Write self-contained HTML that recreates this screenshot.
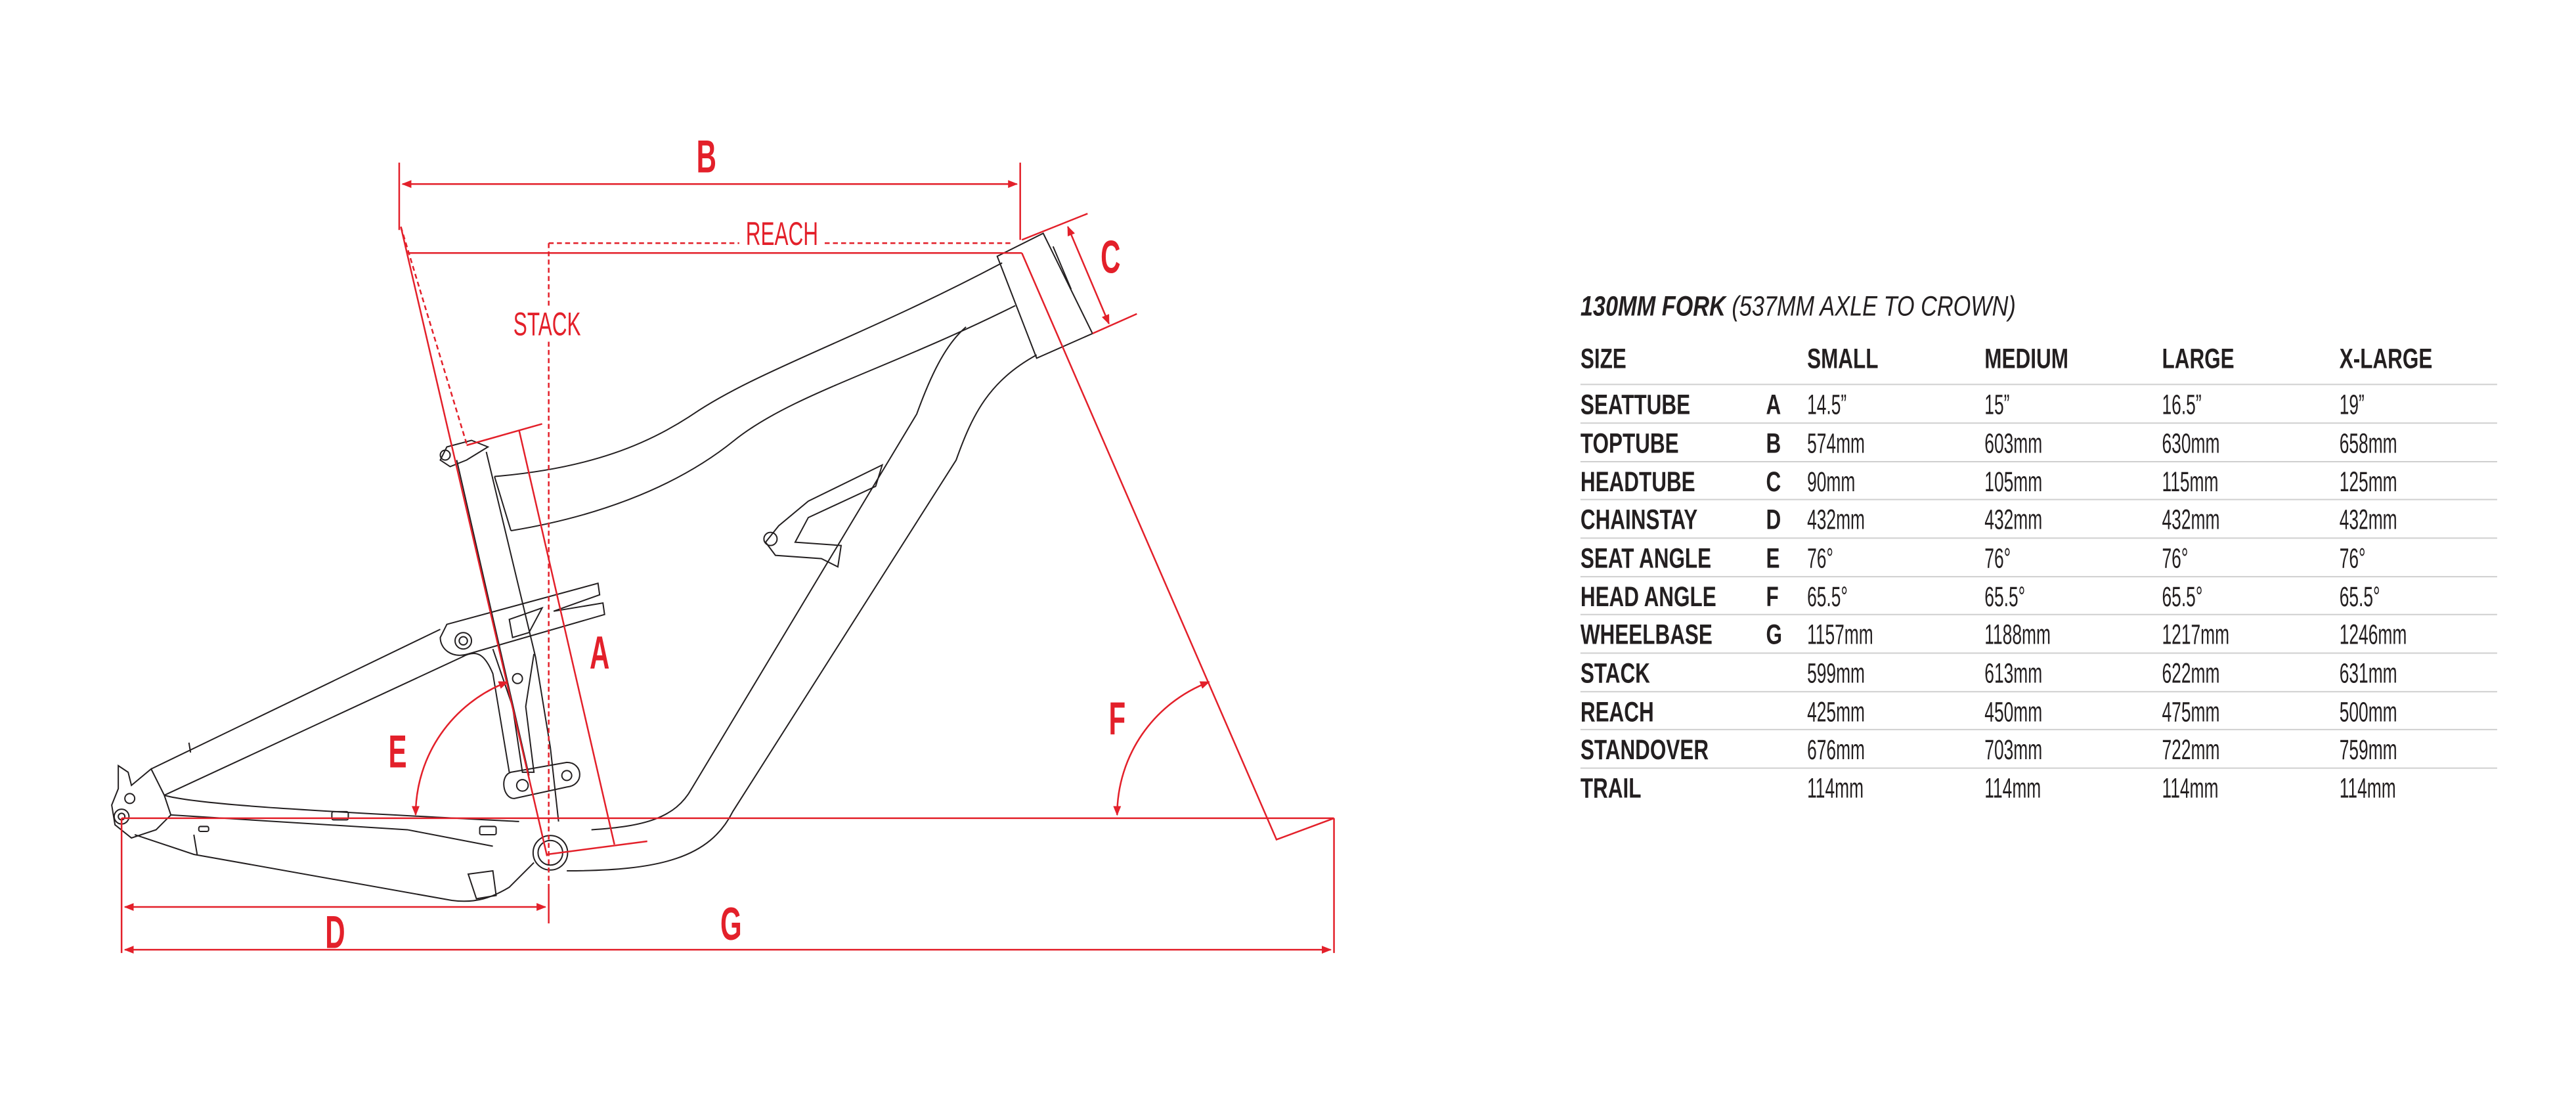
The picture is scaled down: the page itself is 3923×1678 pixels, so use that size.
<!DOCTYPE html>
<html><head><meta charset="utf-8"><style>
html,body{margin:0;padding:0;background:#fff;}
svg{display:block;}
.r{stroke:#e3202a;fill:none;stroke-width:1;}
.k{stroke:#231f20;fill:none;stroke-width:0.8;}
text{transform-box:fill-box;}
.rl{fill:#e3202a;font-family:"Liberation Sans Narrow","Liberation Sans",sans-serif;font-weight:bold;font-size:28px;text-anchor:middle;transform-origin:50% 50%;transform:scaleX(0.6);}
.rt{fill:#e3202a;font-family:"Liberation Sans Narrow","Liberation Sans",sans-serif;font-size:20px;text-anchor:middle;transform-origin:50% 50%;transform:scaleX(0.63);}
.t text{fill:#231f20;font-family:"Liberation Sans Narrow","Liberation Sans",sans-serif;font-size:17px;transform-origin:0 50%;transform:scaleX(0.62);}
.t .b text{font-weight:bold;transform:scaleX(0.74);}
.t text.ttl{transform:none;}
.ln{stroke:#cfcfcf;stroke-width:0.8;}
</style></head><body>
<svg width="3923" height="1678" viewBox="0 0 1568 670.7" preserveAspectRatio="none" xmlns="http://www.w3.org/2000/svg">
<defs>
<marker id="ar" viewBox="0 0 10 10" refX="9" refY="5" markerWidth="6" markerHeight="6" orient="auto-start-reverse"><path d="M0,1 L10,5 L0,9 z" fill="#e3202a"/></marker>
</defs>
<g class="k">
<path d="M607,156 L635,142 L665,203 L631,218 Z"/>
<path d="M641,150 L652,176"/>
<path d="M610,160 C525,205 462,225 422,252 C395,270 360,285 301,290"/>
<path d="M618,186 C540,225 482,240 447,268 C410,298 360,315 311,323"/>
<path d="M301,290 L311,323"/>
<path d="M631,216 C602,232 592,252 582,280 L446,494 C432,522 402,530 345,530"/>
<path d="M588,199 C575,210 566,230 558,252 L421,480 C411,498 392,503 360,505"/>
<path d="M278,280 L322,472"/>
<path d="M296,275 L326,400 L335,455 L340,500"/>
<path d="M297,272 L287,268 L272,272 L268,280 L274,284 L284,280 Z"/>
<circle cx="271" cy="277" r="3"/>
<path d="M537,283 L492,305 L474,320 L466,330 L472,338 L500,340 L510,345 L512,332 L484,330 L492,315 L533,296 Z"/>
<circle cx="469" cy="328" r="4"/>
<path d="M272,380 L364,355 L365,362 L337,372 L367,367 L368,374 L285,398 C275,401 268,395 268,388 Z"/>
<circle cx="282" cy="390" r="5"/>
<circle cx="282" cy="390" r="2.5"/>
<path d="M310,377 L330,370 L322,385 L312,388 Z"/>
<path d="M300,395 L312,430 L318,470 L325,470 L320,430 L325,398"/>
<circle cx="315" cy="413" r="3"/>
<path d="M268,383 L92,468"/>
<path d="M281,400 L100,484"/>
<path d="M281,400 C290,395 295,398 300,410 L310,470"/>
<path d="M72,466 L78,470 L80,478 L92,468 L100,484 L104,496 L95,505 L80,510 L70,502 L68,490 L72,480 Z"/>
<circle cx="74" cy="497" r="4.5"/>
<circle cx="74" cy="497" r="2"/>
<circle cx="79" cy="486" r="3"/>
<path d="M115,452 L116,458"/>
<path d="M100,484 C120,490 200,494 316,500"/>
<path d="M104,496 L248,505 L300,515"/>
<path d="M82,508 L118,520 L275,548 C290,550 300,546 310,540 L325,525"/>
<path d="M118,508 L120,520"/>
<rect x="202" y="494" width="10" height="5" rx="1"/>
<rect x="292" y="503" width="10" height="5" rx="1"/>
<rect x="121" y="503" width="6" height="3" rx="1"/>
<path d="M285,532 L300,530 L302,545 L290,547 Z"/>
<path d="M311,470 L345,464 C355,464 356,478 345,479 L313,486 C306,486 304,472 311,470 Z"/>
<circle cx="318" cy="478" r="3.5"/>
<circle cx="345" cy="472" r="3"/>
<circle cx="335" cy="519" r="10.5"/>
<circle cx="335" cy="519" r="7.5"/>
</g>
<g class="r">
<path d="M243,99 L243,140"/>
<path d="M621,99 L621,146"/>
<path d="M245,112 L619,112" marker-start="url(#ar)" marker-end="url(#ar)"/>
<path d="M334,148 L450,148 M502,148 L617,148" stroke-dasharray="3,2"/>
<path d="M334,148 L334,187 M334,208 L334,540" stroke-dasharray="3,2"/>
<path d="M334,540 L334,562"/>
<path d="M248,154 L622,154"/>
<path d="M622,146 L662,130"/>
<path d="M665,203 L692,191"/>
<path d="M650,138 L675,197" marker-start="url(#ar)" marker-end="url(#ar)"/>
<path d="M622,154 L777,511 L812,498"/>
<path d="M74,498 L812,498"/>
<path d="M812,498 L812,580"/>
<path d="M74,498 L74,580"/>
<path d="M76,552 L332,552" marker-start="url(#ar)" marker-end="url(#ar)"/>
<path d="M76,578 L810,578" marker-start="url(#ar)" marker-end="url(#ar)"/>
<path d="M244,138 L333,521"/>
<path d="M244,138 L284,270" stroke-dasharray="3,2"/>
<path d="M284,271 L330,258"/>
<path d="M333,520 L394,512"/>
<path d="M316,262 L374,514"/>
<path d="M253,496 C253,460 275,428 309,415" marker-start="url(#ar)" marker-end="url(#ar)"/>
<path d="M680,496 C680,460 702,428 736,415" marker-start="url(#ar)" marker-end="url(#ar)"/>
</g>
<g>
<text class="rl" x="430" y="105">B</text>
<text class="rt" x="476" y="149">REACH</text>
<text class="rt" x="333" y="204">STACK</text>
<text class="rl" x="676" y="166">C</text>
<text class="rl" x="365" y="407">A</text>
<text class="rl" x="242" y="467">E</text>
<text class="rl" x="680" y="447">F</text>
<text class="rl" x="204" y="577">D</text>
<text class="rl" x="445" y="572">G</text>
</g>
<g class="t">
<text class="ttl" x="962" y="192" font-size="17" font-style="italic" textLength="265" lengthAdjust="spacingAndGlyphs"><tspan font-weight="bold">130MM FORK</tspan> (537MM AXLE TO CROWN)</text>
<g class="b">
<text x="962" y="224">SIZE</text><text x="1100" y="224">SMALL</text><text x="1208" y="224">MEDIUM</text><text x="1316" y="224">LARGE</text><text x="1424" y="224">X-LARGE</text>
</g>
<g class="ln">
<line x1="962" y1="234" x2="1520" y2="234"/><line x1="962" y1="257.5" x2="1520" y2="257.5"/><line x1="962" y1="281" x2="1520" y2="281"/><line x1="962" y1="304" x2="1520" y2="304"/><line x1="962" y1="327.5" x2="1520" y2="327.5"/><line x1="962" y1="351" x2="1520" y2="351"/><line x1="962" y1="374" x2="1520" y2="374"/><line x1="962" y1="397.5" x2="1520" y2="397.5"/><line x1="962" y1="421" x2="1520" y2="421"/><line x1="962" y1="444" x2="1520" y2="444"/><line x1="962" y1="467.5" x2="1520" y2="467.5"/>
</g>
<g class="b">
<text x="962" y="252">SEATTUBE</text><text x="1075" y="252">A</text>
<text x="962" y="275.5">TOPTUBE</text><text x="1075" y="275.5">B</text>
<text x="962" y="299">HEADTUBE</text><text x="1075" y="299">C</text>
<text x="962" y="322">CHAINSTAY</text><text x="1075" y="322">D</text>
<text x="962" y="345.5">SEAT ANGLE</text><text x="1075" y="345.5">E</text>
<text x="962" y="369">HEAD ANGLE</text><text x="1075" y="369">F</text>
<text x="962" y="392">WHEELBASE</text><text x="1075" y="392">G</text>
<text x="962" y="415.5">STACK</text>
<text x="962" y="439">REACH</text>
<text x="962" y="462">STANDOVER</text>
<text x="962" y="485.5">TRAIL</text>
</g>
<text x="1100" y="252">14.5”</text><text x="1208" y="252">15”</text><text x="1316" y="252">16.5”</text><text x="1424" y="252">19”</text>
<text x="1100" y="275.5">574mm</text><text x="1208" y="275.5">603mm</text><text x="1316" y="275.5">630mm</text><text x="1424" y="275.5">658mm</text>
<text x="1100" y="299">90mm</text><text x="1208" y="299">105mm</text><text x="1316" y="299">115mm</text><text x="1424" y="299">125mm</text>
<text x="1100" y="322">432mm</text><text x="1208" y="322">432mm</text><text x="1316" y="322">432mm</text><text x="1424" y="322">432mm</text>
<text x="1100" y="345.5">76°</text><text x="1208" y="345.5">76°</text><text x="1316" y="345.5">76°</text><text x="1424" y="345.5">76°</text>
<text x="1100" y="369">65.5°</text><text x="1208" y="369">65.5°</text><text x="1316" y="369">65.5°</text><text x="1424" y="369">65.5°</text>
<text x="1100" y="392">1157mm</text><text x="1208" y="392">1188mm</text><text x="1316" y="392">1217mm</text><text x="1424" y="392">1246mm</text>
<text x="1100" y="415.5">599mm</text><text x="1208" y="415.5">613mm</text><text x="1316" y="415.5">622mm</text><text x="1424" y="415.5">631mm</text>
<text x="1100" y="439">425mm</text><text x="1208" y="439">450mm</text><text x="1316" y="439">475mm</text><text x="1424" y="439">500mm</text>
<text x="1100" y="462">676mm</text><text x="1208" y="462">703mm</text><text x="1316" y="462">722mm</text><text x="1424" y="462">759mm</text>
<text x="1100" y="485.5">114mm</text><text x="1208" y="485.5">114mm</text><text x="1316" y="485.5">114mm</text><text x="1424" y="485.5">114mm</text>
</g>
</svg>
</body></html>
